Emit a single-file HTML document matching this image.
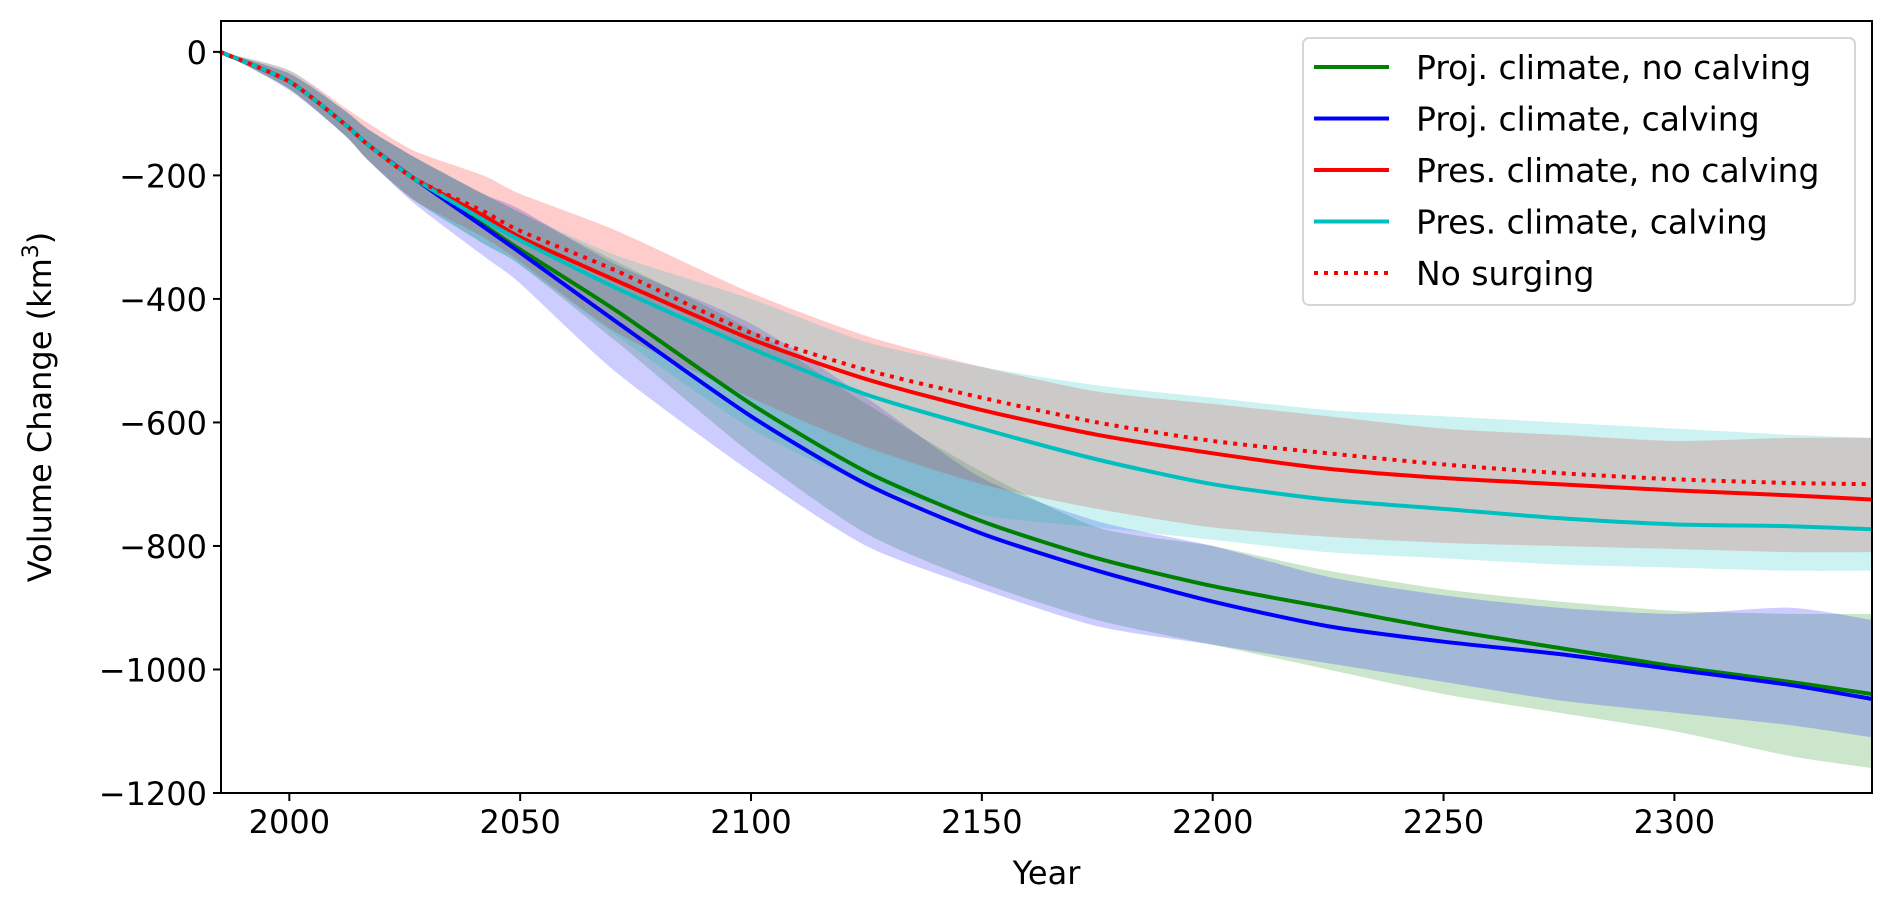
<!DOCTYPE html>
<html><head><meta charset="utf-8"><style>
html,body{margin:0;padding:0;background:#fff;}
svg{display:block;font-family:"DejaVu Sans","Liberation Sans",sans-serif;}
</style></head><body>
<svg id="chart" width="1892" height="910" viewBox="0 0 1892 910">
<g id="bands"></g>
<g id="lines"></g>
<g id="axes"></g>
<g id="legend"></g>
</svg>
<script>
const years = [1985,2000,2012,2017,2027,2042,2050,2071,2100,2125,2150,2175,2200,2225,2250,2275,2300,2325,2343];
const projNoCalving = [0,-48,-117,-150,-205,-280,-320,-420,-570,-680,-760,-820,-865,-900,-935,-965,-995,-1020,-1040];
const projCalving   = [0,-48,-117,-150,-205,-283,-325,-438,-590,-700,-780,-840,-890,-930,-955,-975,-1000,-1025,-1048];
const presNoCalving = [0,-48,-117,-150,-205,-265,-300,-371,-465,-530,-580,-620,-650,-675,-690,-700,-710,-718,-725];
const presCalving   = [0,-48,-117,-150,-205,-272,-305,-383,-480,-555,-610,-660,-700,-725,-740,-755,-765,-768,-773];
const noSurging     = [0,-48,-117,-150,-205,-258,-290,-355,-455,-515,-560,-600,-630,-650,-668,-682,-692,-698,-700];
const projNoCalvingHi = [0,-35,-95,-125,-170,-230,-260,-340,-450,-570,-680,-770,-800,-840,-870,-890,-905,-910,-910];
const projNoCalvingLo = [0,-60,-135,-175,-240,-310,-345,-470,-650,-780,-860,-920,-960,-1000,-1040,-1070,-1100,-1140,-1160];
const projCalvingHi = [0,-35,-95,-125,-170,-230,-255,-345,-440,-560,-690,-760,-800,-850,-880,-900,-910,-900,-920];
const projCalvingLo = [0,-62,-135,-175,-245,-330,-375,-520,-680,-800,-870,-930,-960,-990,-1020,-1050,-1070,-1090,-1110];
const presNoCalvingHi = [0,-30,-90,-115,-160,-200,-230,-290,-390,-460,-510,-550,-570,-590,-610,-620,-630,-625,-625];
const presNoCalvingLo = [0,-60,-135,-175,-240,-300,-340,-455,-560,-640,-700,-740,-770,-785,-795,-800,-805,-810,-810];
const presCalvingHi = [0,-30,-95,-125,-170,-230,-260,-330,-400,-470,-510,-540,-560,-580,-590,-600,-610,-620,-625];
const presCalvingLo = [0,-60,-135,-175,-240,-310,-345,-460,-610,-700,-750,-770,-790,-810,-820,-830,-835,-840,-840];
const xTicks = [2000,2050,2100,2150,2200,2250,2300];
const yTicks = [0,-200,-400,-600,-800,-1000,-1200];
const legendLabels = ["Proj. climate, no calving","Proj. climate, calving","Pres. climate, no calving","Pres. climate, calving","No surging"];

const L=221,R=1872,T=21,B=793, X0=1985.2,X1=2342.8, Y0=50,Y1=-1200;
const xs=v=>L+(v-X0)/(X1-X0)*(R-L);
const ys=v=>T+(Y0-v)/(Y0-Y1)*(B-T);
const NS='http://www.w3.org/2000/svg';
function mk(tag,parent,attrs){const e=document.createElementNS(NS,tag);for(const k in attrs)e.setAttribute(k,attrs[k]);parent.appendChild(e);return e;}
function smooth(pts,start){
  let d=start?'M'+pts[0][0]+','+pts[0][1]:'L'+pts[0][0]+','+pts[0][1];
  for(let i=0;i<pts.length-1;i++){
    const p0=pts[Math.max(i-1,0)],p1=pts[i],p2=pts[i+1],p3=pts[Math.min(i+2,pts.length-1)];
    const t=0.12;
    const c1=[p1[0]+(p2[0]-p0[0])*t,p1[1]+(p2[1]-p0[1])*t];
    const c2=[p2[0]-(p3[0]-p1[0])*t,p2[1]-(p3[1]-p1[1])*t];
    d+='C'+c1[0]+','+c1[1]+' '+c2[0]+','+c2[1]+' '+p2[0]+','+p2[1];
  }
  return d;
}
const bands=document.getElementById('bands'),lines=document.getElementById('lines'),axes=document.getElementById('axes'),legend=document.getElementById('legend');

const bandDefs=[[projNoCalvingHi,projNoCalvingLo,'#008000','band-proj-no-calving'],[projCalvingHi,projCalvingLo,'#0000ff','band-proj-calving'],[presNoCalvingHi,presNoCalvingLo,'#ff0000','band-pres-no-calving'],[presCalvingHi,presCalvingLo,'#00bfbf','band-pres-calving']];
bandDefs.forEach(b=>{
  const up=years.map((y,i)=>[xs(y),ys(b[0][i])]);
  const lo=years.map((y,i)=>[xs(y),ys(b[1][i])]).reverse();
  const d=smooth(up,true)+smooth(lo,false)+'Z';
  const p=mk('path',bands,{d:d,fill:b[2],'fill-opacity':0.2,stroke:'none'});
  
  
});
const lineDefs=[[projNoCalving,'#008000',null,'line-proj-no-calving'],[projCalving,'#0000ff',null,'line-proj-calving'],[presNoCalving,'#ff0000',null,'line-pres-no-calving'],[presCalving,'#00bfbf',null,'line-pres-calving'],[noSurging,'#ff0000','4 6','line-no-surging']];
lineDefs.forEach(l=>{
  const pts=years.map((y,i)=>[xs(y),ys(l[0][i])]);
  const p=mk('path',lines,{d:smooth(pts,true),fill:'none',stroke:l[1],'stroke-width':4,'stroke-linejoin':'round'});
  if(l[2])p.setAttribute('stroke-dasharray',l[2]);
  
  
});
const frame=mk('rect',axes,{x:L,y:T,width:R-L,height:B-T,fill:'none',stroke:'#000','stroke-width':2});


xTicks.forEach(t=>{
  const x=xs(t);
  const tk=mk('line',axes,{x1:x,x2:x,y1:B,y2:B+8,stroke:'#000','stroke-width':2});
  
  
  const tx=mk('text',axes,{x:x,y:B+40,'text-anchor':'middle','font-size':32,fill:'#000'});
  tx.textContent=t;
  
  
});
yTicks.forEach(t=>{
  const y=ys(t);
  const tk=mk('line',axes,{x1:L-8,x2:L,y1:y,y2:y,stroke:'#000','stroke-width':2});
  
  
  const tx=mk('text',axes,{x:L-14,y:y+12,'text-anchor':'end','font-size':32,fill:'#000'});
  tx.textContent=t<0?'\u2212'+Math.abs(t):String(t);
  
  
});
const xl=mk('text',axes,{x:(L+R)/2,y:884,'text-anchor':'middle','font-size':32,fill:'#000'});
xl.textContent='Year';


const yl=mk('text',axes,{x:0,y:0,'text-anchor':'middle','font-size':32,fill:'#000',transform:'translate(51,'+((T+B)/2)+') rotate(-90)'});
yl.innerHTML='Volume Change (km<tspan font-size="22" dy="-13">3</tspan><tspan dy="13">)</tspan>';



const lb=mk('rect',legend,{x:1303,y:38,width:552,height:267,rx:6,fill:'#fff','fill-opacity':0.85,stroke:'#d6d6d6','stroke-width':2});


legendLabels.forEach((lab,i)=>{
  const cy=67+i*51.5;
  const g=mk('g',legend,{});
  
  
  const ln=mk('line',g,{x1:1314,x2:1389,y1:cy,y2:cy,stroke:lineDefs[i][1],'stroke-width':4});
  if(lineDefs[i][2])ln.setAttribute('stroke-dasharray','4 6');
  const tx=mk('text',g,{x:1416,y:cy+12,'font-size':33,fill:'#000'});
  tx.textContent=lab;
});
</script>
</body></html>
